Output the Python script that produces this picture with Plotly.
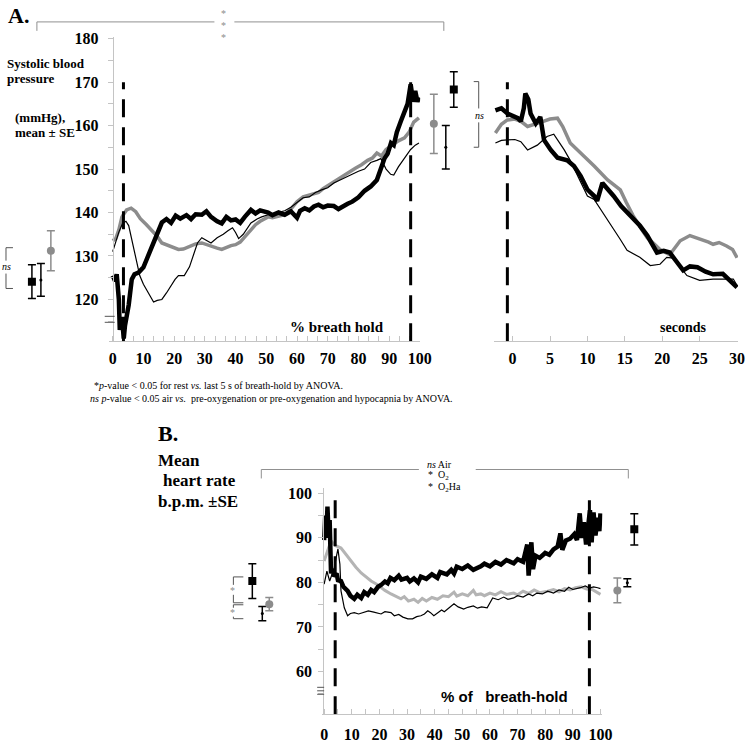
import plotly.graph_objects as go

# design grid in reference pixels; the page itself is drawn a little larger
W, H = 747, 744
FIG_W, FIG_H = 759, 747
DY = 3
SERIF = "Liberation Serif"
SANS = "Liberation Sans"
GREY = "#8c8c8c"
LIGHT = "#b4b4b4"
AXC = "#c4c4c4"

# ---------- Panel A: systolic blood pressure (mmHg) vs % of breath-hold ----------
a_thick = [(0, 125.5), (0.8, 124.2), (1.3, 125.8), (2, 120), (2.3, 113), (3, 116), (3.6, 111),
           (4, 114), (5.2, 118.7), (6.2, 124.6), (7.1, 125.8), (8.4, 126.2), (10, 127.4),
           (11.3, 129.5), (12.7, 132.4), (14.3, 135), (16, 137.7), (17.5, 138.5), (19, 137.6),
           (20.5, 139.3), (22, 138.6), (24, 139.4), (25.5, 138.5), (27, 139.6), (29, 139.5),
           (30.5, 140.3), (32, 139), (34, 138), (35.5, 137.5), (37, 139), (38.5, 138.2),
           (40, 138.4), (41.5, 137.6), (43, 139), (45, 140.6), (46.5, 139.8), (48, 140.5),
           (50.6, 140), (52, 139.4), (54, 140), (56, 139.5), (58, 140.3), (59, 139.5),
           (60, 138.8), (61, 140.4), (62.5, 141), (64, 140.5), (65.5, 141.4), (67, 141.8),
           (68.5, 141.2), (70, 141.6), (72, 141.5), (73.5, 140.8), (75, 141.5), (76.5, 142),
           (78, 142.5), (80, 143.5), (82, 145), (84, 146), (86, 147.5), (87.3, 150),
           (88.5, 152.5), (89.5, 153.5), (90.6, 156), (91.5, 155.5), (92.5, 158.5), (93.8, 161),
           (95, 163.5), (96, 165), (97, 169.5), (97.8, 165.5), (98.5, 168), (99.2, 165.5),
           (99.7, 166.5)]
a_grey = [(0, 133.5), (1, 134), (2, 136), (3, 139), (4.5, 140.6), (6, 141), (7.5, 140.2),
          (9, 138.6), (11, 137.2), (12.7, 136), (14.5, 134.5), (16, 133), (18, 132.4),
          (20, 131.8), (21.4, 131.5), (23, 131.6), (25, 132.2), (27, 132.8), (29, 133),
          (30.5, 132.6), (32, 132.2), (34, 131.8), (35.5, 131.5), (37, 132), (38.5, 132.4),
          (40, 132.6), (41.5, 133.2), (43, 134.4), (45, 136), (46.5, 137.2), (48, 138),
          (50.6, 139), (52, 138.8), (54, 139.2), (56, 139.5), (58, 140.8), (60, 142.5),
          (62, 143.6), (64, 144), (65.5, 144.2), (67, 144.6), (68.5, 145.5), (70, 146.2),
          (72, 147), (74, 148), (76, 148.8), (77.6, 149.6), (79, 150.2), (81, 151), (83, 152),
          (84.5, 152.5), (86, 153.7), (87.5, 153), (89, 154.5), (91, 155.5), (93, 156.5),
          (95, 157.2), (96.5, 158.5), (98, 160.8), (99.7, 161.8)]
a_thin = [(0, 131), (1, 133.5), (2, 135.5), (3.2, 137.5), (4.3, 138), (5.2, 137), (6.5, 133),
          (7.8, 128.6), (8.8, 125.5), (10, 123.5), (11.7, 121.2), (13.3, 119.4), (14.5, 119.8),
          (16, 120), (17.5, 121.5), (19, 123.2), (20.3, 124.6), (21.4, 125.5), (23.3, 125.5),
          (25, 127.5), (26.5, 130.5), (27.6, 133), (29, 134.2), (30.5, 133.6), (32, 133),
          (34, 134.2), (36, 135), (37.5, 135.8), (39, 136.5), (40, 135.4), (41, 134),
          (42.5, 135), (44, 136.6), (45, 137.6), (47, 138.5), (48.5, 139), (50.6, 139.5),
          (52, 139.7), (54, 140), (56, 140.4), (58, 141.2), (60, 142.2), (62, 143.4),
          (64, 143.6), (66, 144.6), (68, 145.2), (70, 145.7), (72, 146.8), (74, 147.5),
          (76, 148.2), (78, 148.8), (80, 149.5), (82, 150), (84, 151.5), (86, 152),
          (87.3, 152.4), (89, 150), (90.5, 148.8), (91.5, 148.6), (93, 150.5), (95, 152.5),
          (97, 154.5), (98.5, 155.5), (99.7, 156)]

# recovery, seconds after breath-hold
r_thick = [(-2.3, 163.5), (-1.5, 164), (-0.7, 162.8), (0, 162.3), (0.7, 161.7), (1.1, 161),
           (1.5, 164), (1.7, 167.4), (2.1, 166), (2.4, 162.8), (3.1, 160.5), (3.7, 162),
           (4.2, 156.7), (5.1, 154.4), (6, 152.6), (7.3, 152), (8.2, 150.7), (9.1, 148.4),
           (10, 145.3), (10.9, 143.8), (11.3, 142.7), (12, 146.8), (12.7, 145.5), (13.5, 143.8),
           (14.5, 141.5), (15.7, 139.3), (17, 137), (18, 134.7), (19.3, 130.8), (20.2, 131.2),
           (21, 130.8), (22, 128.5), (22.8, 126.7), (23.7, 127.6), (24.7, 127.4), (25.8, 126.4),
           (26.8, 125.8), (28.1, 125.9), (29, 124.4), (30, 122.8)]
r_grey = [(-2.3, 158.3), (-1.5, 160.3), (-0.7, 161.3), (0.3, 161.5), (1.1, 161), (2, 159.8),
          (3.3, 160.5), (4.2, 161), (5, 161.5), (6, 161.7), (6.7, 159.8), (7.7, 156),
          (9.1, 153.7), (10.9, 150.7), (12.7, 147.5), (14.4, 145.2), (15.2, 142.3),
          (16.1, 139.3), (17, 136.8), (18, 134.2), (18.8, 133), (19.7, 131.5), (21, 130.3),
          (22.4, 133.5), (23.7, 134.7), (24.6, 134.2), (25.5, 133.5), (26.2, 133.2),
          (26.8, 132.7), (27.6, 133.1), (28.6, 132.3), (29.4, 131.5), (30, 129.6)]
r_thin = [(-2.3, 156), (-1.5, 156.6), (-0.7, 156.7), (0.3, 156.8), (1.1, 156.3), (2, 154.4),
          (3.3, 155.5), (4.6, 157.5), (5.5, 158), (6.9, 154.4), (7.7, 152), (9.1, 146.8),
          (10, 143.8), (10.9, 143), (12.7, 138.4), (14.4, 133.8), (15.3, 131.3), (17, 129.7),
          (18.4, 127.8), (19.7, 128.1), (20.6, 129.7), (21.5, 129.5), (23.3, 125.5),
          (25, 124.4), (26.8, 124.7), (29.5, 124.7), (30, 123.2)]

# rest and end-of-hold means +/- SE: [thick/square, thin, grey/circle]
a_rest_mean = [124.1, 124.5, 131.2]
a_rest_se = [3.9, 3.75, 4.6]
a_end_mean = [168.3, 155.0, 160.4]
a_end_se = [4.1, 5.0, 6.8]
a_hold_marks = [3.5, 97]      # dashed lines, % of breath-hold
a_recovery_mark = -0.7        # dashed line, seconds

# ---------- Panel B: heart rate (b.p.m.) vs % of breath-hold ----------
b_thick = [(0, 89.5), (0.4, 95), (0.8, 90), (1.2, 97), (1.6, 91), (2, 94), (2.5, 82), (3, 83),
           (3.6, 81.4), (4.5, 82), (5, 80.5), (6.1, 80.3), (7, 79), (8.5, 78.1), (9.5, 77),
           (10.9, 76.3), (12, 77.2), (13.4, 76.5), (14.5, 77.8), (15.8, 77.2), (17, 78.3),
           (18.1, 77.8), (19.5, 79), (20.6, 79.4), (22, 80.2), (23, 79.8), (24, 81), (25.4, 80.5),
           (27, 81.5), (28, 80.6), (30, 81), (31, 80.2), (32.5, 80.9), (34, 80), (35, 81.3),
           (37, 80.8), (39, 81.8), (41, 81), (42, 82.3), (44.4, 81.8), (46, 82.8), (47, 82),
           (48, 83.5), (50, 83), (52, 83.8), (54, 82.8), (56.7, 83.6), (58, 84.2), (60, 83.6),
           (62, 84.6), (64, 84), (66, 85), (68.6, 84.3), (70, 85.2), (72, 84.6), (73.5, 88.5),
           (74, 81.5), (75, 89), (75.6, 83), (76.5, 86), (78, 85.5), (80, 86.6), (81.5, 86.2),
           (83, 87.4), (84.5, 88), (85.5, 91), (86.2, 87.3), (87.5, 89.4), (89, 89.8),
           (90.5, 90.8), (91.5, 89.5), (92.5, 95.5), (93.2, 90), (94, 93.5), (94.8, 88.5),
           (95.5, 92.5), (96.2, 96.2), (96.8, 89), (97.5, 95.7), (98.2, 90.5), (99, 94.5),
           (99.6, 91.5), (100, 95.5)]
b_grey = [(0, 84.8), (1, 86.5), (2.5, 89.3), (4, 88.3), (6.1, 87.7), (8, 86.2), (9.7, 84.8),
          (11.5, 83.4), (13.4, 82.1), (15, 81.2), (17, 80.3), (19, 79.6), (20.6, 78.8),
          (22, 78.2), (24.2, 77.4), (26, 76.9), (27.8, 76.3), (29, 76.8), (30.5, 75.8),
          (32.5, 76.2), (34, 75.5), (35.5, 76.4), (37, 75.8), (39, 76.6), (41, 76.2), (43, 77),
          (45, 76.8), (47, 77.8), (48, 76.9), (50, 77.4), (52, 77), (54, 78.2), (55, 77.2),
          (56.7, 77.4), (58, 77), (60, 77.6), (62, 77.2), (64, 77.9), (66, 77.3), (68.6, 77.6),
          (70, 77.2), (72, 78), (74, 77.5), (76, 78.3), (78, 77.7), (80.9, 78), (83, 78.4),
          (85, 77.9), (87, 78.6), (89, 78.3), (91, 78.8), (93, 79), (95, 78.5), (97, 78.4),
          (99, 77.6), (100, 77.3)]
b_thin = [(0, 79.6), (1, 82.5), (2, 80.3), (3, 82), (3.7, 83.3), (4.5, 86), (5, 87.5),
          (5.7, 84.1), (6.1, 78.1), (7.3, 74.3), (8.5, 72.5), (9.5, 73), (10.9, 73.2),
          (12.5, 72.9), (14.4, 73.2), (16, 73.6), (18, 73.3), (20.6, 72.9), (22, 73.4),
          (24.2, 73.2), (25.4, 72.5), (27, 72.8), (28.5, 72.2), (30.3, 71.8), (32, 71.8),
          (33.5, 72.3), (35, 72.5), (36.3, 72.9), (37.5, 73.6), (38.5, 73.2), (39.7, 72.5),
          (41, 73.2), (42.5, 73.8), (43.5, 73.4), (44.8, 74), (46, 74.6), (47, 75.2),
          (48.5, 74.5), (50.5, 74), (52, 74.4), (54, 74.7), (55.5, 74.2), (57, 74.5),
          (59, 74.3), (60.3, 75.8), (61, 76.5), (63, 76.1), (65, 76.7), (66.5, 76.2),
          (68.6, 76.5), (70, 77), (72, 76.7), (74, 77.4), (75.5, 77), (77, 77.6), (79, 77.4),
          (80.9, 78), (83, 77.6), (85, 78.3), (87, 78), (88.5, 78.9), (90, 78.4), (92.8, 78.8),
          (94.5, 79.2), (96, 78.7), (97.5, 79), (99, 78.8), (100, 78.6)]

b_rest_mean = [80.3, 73.0, 75.1]
b_rest_se = [3.9, 1.6, 1.5]
b_end_mean = [91.9, 79.9, 78.2]
b_end_se = [3.5, 0.9, 2.8]
b_hold_marks = [4, 96]


def px(x):
    return x / W


def py(y):
    return 1 - (y - DY) / H


def line(pairs, xa, ya, color, width):
    xs, ys = zip(*pairs)
    return go.Scatter(x=xs, y=ys, xaxis=xa, yaxis=ya, mode='lines',
                      line=dict(color=color, width=width), hoverinfo='skip')


STYLES = [
    dict(symbol='square', size=8, color='black'),
    dict(symbol='circle', size=3, color='black'),
    dict(symbol='circle', size=8, color=GREY),
]


def points(xpix, means, ses, xa, ya):
    out = []
    for xp, m, s, st in zip(xpix, means, ses, STYLES):
        out.append(go.Scatter(
            x=[xp], y=[m], xaxis=xa, yaxis=ya, mode='markers',
            marker=dict(symbol=st['symbol'], size=st['size'], color=st['color']),
            error_y=dict(type='data', array=[s], color=st['color'], thickness=1.5, width=4),
            hoverinfo='skip'))
    return out


fig = go.Figure()

# panel A traces
for pairs, color, w in [(a_grey, GREY, 3.5), (a_thin, 'black', 1.2), (a_thick, 'black', 4.5)]:
    fig.add_trace(line(pairs, 'x', 'y', color, w))
for pairs, color, w in [(r_grey, GREY, 3.5), (r_thin, 'black', 1.2), (r_thick, 'black', 4.5)]:
    fig.add_trace(line(pairs, 'x2', 'y', color, w))
for tr in points([30, 39, 49], a_rest_mean, a_rest_se, 'x4', 'y'):
    fig.add_trace(tr)
for tr in points([453, 445, 433], a_end_mean, a_end_se, 'x4', 'y'):
    fig.add_trace(tr)

# panel B traces
for pairs, color, w in [(b_grey, LIGHT, 3), (b_thin, 'black', 1.2), (b_thick, 'black', 4.5)]:
    fig.add_trace(line(pairs, 'x3', 'y2', color, w))
for tr in points([251, 261, 268], b_rest_mean, b_rest_se, 'x5', 'y2'):
    fig.add_trace(tr)
for tr in points([634, 627, 617], b_end_mean, b_end_se, 'x5', 'y2'):
    fig.add_trace(tr)

tickfont = dict(family=SERIF, size=16, color='black', weight='bold')
base = dict(showline=True, linecolor=AXC, linewidth=1, showgrid=False, zeroline=False,
            tickcolor=AXC, tickfont=tickfont, tickmode='linear', tick0=0)

fig.update_layout(
    width=FIG_W, height=FIG_H, autosize=False,
    margin=dict(l=0, r=0, t=0, b=0),
    paper_bgcolor='white', plot_bgcolor='rgba(0,0,0,0)',
    showlegend=False,
    xaxis=dict(**base, domain=[px(107), px(419.3)], range=[-1.3, 100.1], anchor='y',
               dtick=10, ticks='inside', ticklen=5, ticklabelstandoff=3,
               minor=dict(dtick=10 / 3, tick0=0, ticks='inside', ticklen=5, tickcolor=AXC)),
    xaxis2=dict(**base, domain=[px(493), px(738)], range=[-2.53, 30.13], anchor='y',
                dtick=5, ticks='inside', ticklen=5, ticklabelstandoff=3),
    yaxis=dict(**base, domain=[py(339), py(33)], range=[110.4, 180.42], anchor='free',
               position=px(111), dtick=10, ticks='outside', ticklen=5, ticklabelstandoff=6,
               minor=dict(dtick=5, ticks='outside', ticklen=5, tickcolor=AXC)),
    xaxis3=dict(**base, domain=[px(321), px(602)], range=[-0.72, 100.7], anchor='y2',
                dtick=10, ticks='inside', ticklen=5, ticklabelstandoff=6,
                minor=dict(dtick=5, ticks='inside', ticklen=5, tickcolor=AXC)),
    yaxis2=dict(**base, domain=[py(714), py(487)], range=[50.4, 101.1], anchor='free',
                position=px(322), dtick=10, ticks='outside', ticklen=5, ticklabelstandoff=3,
                minor=dict(dtick=5, ticks='outside', ticklen=5, tickcolor=AXC)),
    xaxis4=dict(domain=[0, 1], range=[0, W], anchor='y', visible=False),
    xaxis5=dict(domain=[0, 1], range=[0, W], anchor='y2', visible=False),
)

# dashed markers of breath-hold start / end
shapes = []
for xv in a_hold_marks:
    shapes.append(dict(type='line', xref='x', yref='y', x0=xv, x1=xv, y0=110.4, y1=170,
                       line=dict(color='black', width=3, dash='18px,10px')))
shapes.append(dict(type='line', xref='x2', yref='y', x0=a_recovery_mark, x1=a_recovery_mark,
                   y0=110.4, y1=170, line=dict(color='black', width=3, dash='18px,10px')))
for xv in b_hold_marks:
    shapes.append(dict(type='line', xref='x3', yref='y2', x0=xv, x1=xv, y0=50.4, y1=99.8,
                       line=dict(color='black', width=3, dash='18px,10px')))


def path(segments, color, width=1):
    d = ''
    for seg in segments:
        d += 'M' + ' L'.join(f'{px(x):.5f},{py(y):.5f}' for x, y in seg) + ' '
    return dict(type='path', xref='paper', yref='paper', path=d.strip(),
                line=dict(color=color, width=width))


# significance brackets and axis breaks
shapes += [
    path([[(35, 27), (35, 18), (213, 18)], [(233, 18), (443, 18), (443, 27)]], '#909090'),
    path([[(11, 245), (4, 245), (4, 258)], [(4, 271), (4, 286), (11, 286)]], '#555555'),
    path([[(473, 78), (478, 78), (478, 105)], [(478, 119), (478, 144), (473, 144)]], '#555555'),
    path([[(260, 477), (260, 468), (418, 468)], [(475, 468), (628, 468), (628, 477)]], '#909090'),
    path([[(242, 576), (232, 576), (232, 584)], [(232, 594), (232, 602), (242, 602)]], '#555555'),
    path([[(242, 604), (232, 604), (232, 607)], [(232, 616), (232, 618), (242, 618)]], '#555555'),
    path([[(103, 314), (113, 314)], [(103, 320), (113, 320)]], '#555555'),
    path([[(316, 687), (323, 687)], [(316, 690.5), (323, 690.5)], [(316, 694), (323, 694)]],
         '#555555'),
]
fig.update_layout(shapes=shapes)


def txt(s, x, y, size, family=SERIF, bold=False, italic=False, color='black', xanchor='left'):
    return dict(text=s, x=px(x), y=py(y), xref='paper', yref='paper', showarrow=False,
                xanchor=xanchor, yanchor='middle',
                font=dict(family=family, size=size, color=color,
                          weight='bold' if bold else 'normal',
                          style='italic' if italic else 'normal'))


fig.update_layout(annotations=[
    txt('A.', 4, 12, 22, bold=True),
    txt('Systolic blood', 3, 60, 13, bold=True),
    txt('pressure', 3, 75, 13, bold=True),
    txt('(mmHg),', 11, 114, 13, bold=True),
    txt('mean ± SE', 11, 129, 13, bold=True),
    txt('*', 222, 10, 10, color=GREY, xanchor='center'),
    txt('*', 222, 22, 10, color=GREY, xanchor='center'),
    txt('*', 222, 34, 10, color=GREY, xanchor='center'),
    txt('ns', 5, 264, 10, italic=True, xanchor='center'),
    txt('ns', 479, 112, 10, italic=True, xanchor='center'),
    txt('% breath hold', 287, 325, 15, bold=True),
    txt('seconds', 658, 325, 14, bold=True),
    txt('*<i>p</i>-value &lt; 0.05 for rest <i>vs.</i> last 5 s of breath-hold by ANOVA.',
        90, 384, 10),
    txt('<i>ns p</i>-value &lt; 0.05 air <i>vs.</i>  pre-oxygenation or pre-oxygenation and '
        'hypocapnia by ANOVA.', 86, 397, 10),
    txt('B.', 154, 432, 22, bold=True),
    txt('Mean', 154, 459, 17, bold=True),
    txt('heart rate', 159, 479, 17, bold=True),
    txt('b.p.m. ±SE', 154, 500, 17, bold=True),
    txt('<i>ns</i> Air', 424, 463, 10),
    txt('*  O<sub>2</sub>', 425, 474, 10),
    txt('*  O<sub>2</sub>Ha', 425, 486, 10),
    txt('*', 231, 590, 10, color=GREY, xanchor='center'),
    txt('*', 231, 612, 10, color=GREY, xanchor='center'),
    txt('% of   breath-hold', 438, 696, 15, family=SANS, bold=True),
])

fig.write_html(
    "out.html",
    config=dict(displayModeBar=False, responsive=False),
    post_script=("document.documentElement.style.overflow='hidden';"
                 "document.body.style.margin='0';document.body.style.overflow='hidden';"),
)
